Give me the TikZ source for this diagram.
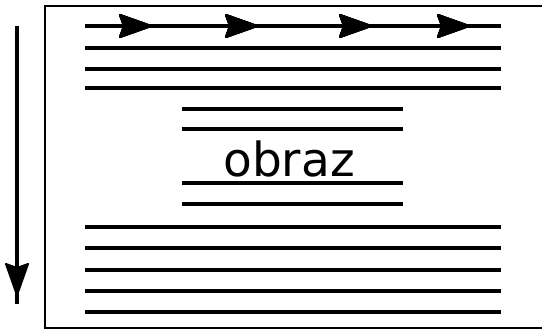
\documentclass[tikz,border=0pt]{standalone}
\usepackage{fontspec}
\setmainfont{DejaVu Sans}
\usetikzlibrary{decorations.markings}
\begin{document}
\begin{tikzpicture}[x=1pt,y=-1pt,
  scanline/.style={line width=3.4pt},
  frameline/.style={line width=2pt},
  headmark/.style={decoration={markings,
    mark=at position #1 with {\filldraw[line width=2pt,line join=round] (-1,0) -- (-32,11) -- (-28,0) -- (-32,-11) -- cycle;}},
    postaction={decorate}}]
\useasboundingbox (0,0) rectangle (542,331);
% frame
\draw[frameline] (45,6) rectangle (560,328);
% vertical arrow
\coordinate (vtop) at (17,26);
\coordinate (vbot) at (17,304);
\draw[scanline,headmark=270pt] (vtop) -- (vbot);
% top lines
\coordinate (tl) at (85,26);
\coordinate (tr) at (501,26);
\draw[scanline,headmark=67pt,headmark=173pt,headmark=287pt,headmark=385pt] (tl) -- (tr);
\foreach \y in {48,69,88} \draw[scanline] (85,\y) -- (501,\y);
% middle lines
\foreach \y in {109,129,183,204} \draw[scanline] (182,\y) -- (403,\y);
% text
\node[anchor=base,inner sep=0pt,font=\fontsize{47pt}{50pt}\selectfont] (obraz) at (289,177) {obraz};
% bottom lines
\foreach \y in {227,248,270,291,312} \draw[scanline] (85,\y) -- (501,\y);
\end{tikzpicture}
\end{document}
